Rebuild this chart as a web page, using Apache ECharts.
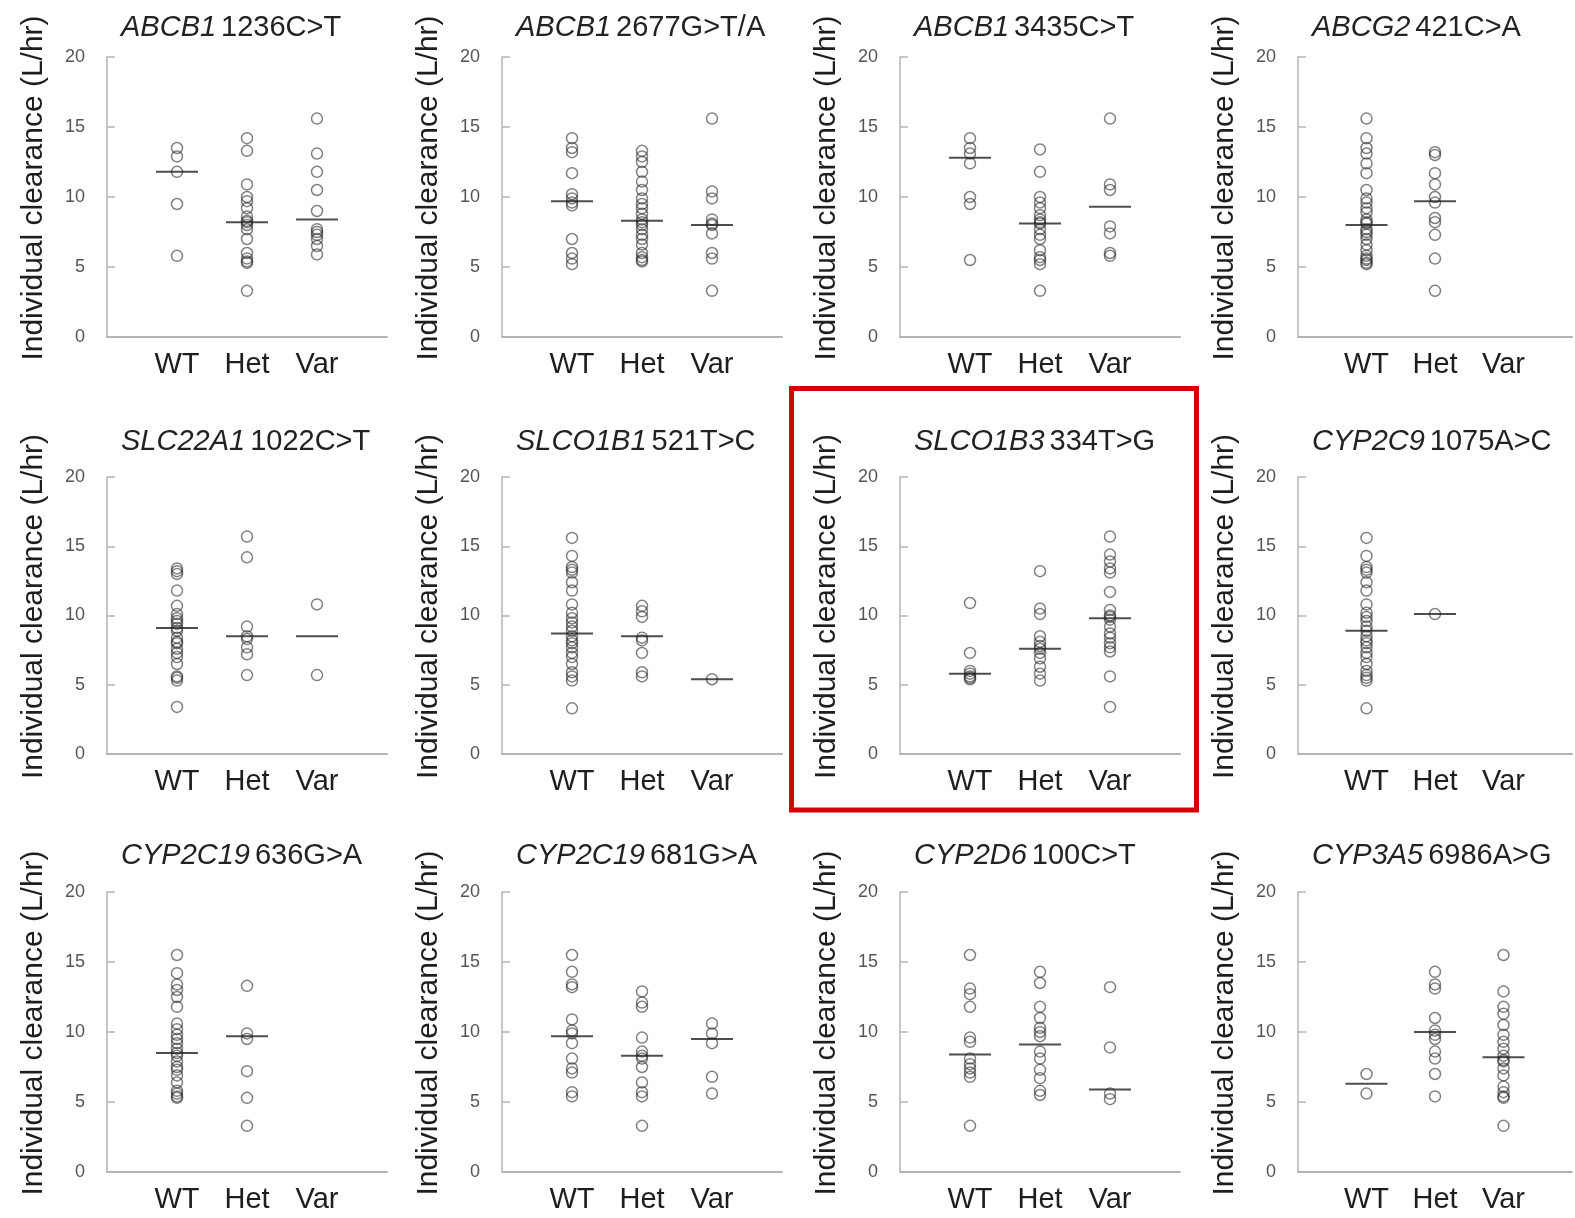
<!DOCTYPE html>
<html><head><meta charset="utf-8">
<script src="https://cdn.jsdelivr.net/npm/echarts@6/dist/echarts.min.js"></script>
<style>html,body{margin:0;padding:0;background:#fff}#c{width:1575px;height:1218px}</style>
</head><body><div id="c"></div>
<script>
// ---------- data ----------
const genotypes = ['WT', 'Het', 'Var'];
const yTickStep = 5;
const yMax = 20;
const genes = ['ABCB1','ABCB1','ABCB1','ABCG2','SLC22A1','SLCO1B1','SLCO1B3','CYP2C9','CYP2C19','CYP2C19','CYP2D6','CYP3A5'];
const variants = ['1236C>T','2677G>T/A','3435C>T','421C>A','1022C>T','521T>C','334T>G','1075A>C','636G>A','681G>A','100C>T','6986A>G'];
const yAxisTitle = 'Individual clearance (L/hr)';

const ABCB1_1236_WT  = [13.5, 12.9, 11.8, 9.5, 5.8];
const ABCB1_1236_Het = [14.2, 13.3, 10.9, 10.0, 9.7, 9.2, 8.6, 8.3, 8.2, 8.0, 7.7, 7.0, 6.0, 5.6, 5.4, 5.3, 3.3];
const ABCB1_1236_Var = [15.6, 13.1, 11.8, 10.5, 9.0, 7.7, 7.5, 7.3, 7.0, 6.5, 5.9];
const ABCB1_1236_Med = [11.8, 8.2, 8.4];

const ABCB1_2677_WT  = [14.2, 13.5, 13.2, 11.7, 10.2, 9.9, 9.6, 9.4, 7.0, 6.0, 5.6, 5.2];
const ABCB1_2677_Het = [13.3, 12.9, 12.5, 11.8, 11.1, 10.5, 9.9, 9.5, 9.2, 8.8, 8.4, 8.2, 8.0, 7.7, 7.3, 7.0, 6.6, 6.0, 5.7, 5.5, 5.4];
const ABCB1_2677_Var = [15.6, 10.4, 9.9, 8.4, 8.1, 8.0, 7.4, 6.0, 5.6, 3.3];
const ABCB1_2677_Med = [9.7, 8.3, 8.0];

const ABCB1_3435_WT  = [14.2, 13.5, 13.1, 12.4, 10.0, 9.5, 5.5];
const ABCB1_3435_Het = [13.4, 11.8, 10.0, 9.6, 9.2, 8.7, 8.4, 8.2, 8.1, 7.7, 7.3, 7.0, 6.2, 5.7, 5.5, 5.2, 3.3];
const ABCB1_3435_Var = [15.6, 10.9, 10.5, 7.9, 7.4, 6.0, 5.8];
const ABCB1_3435_Med = [12.8, 8.1, 9.3];

const ABCG2_421_WT  = [15.6, 14.2, 13.5, 13.1, 12.4, 11.7, 10.5, 9.9, 9.6, 9.2, 8.9, 8.4, 8.2, 8.1, 7.7, 7.5, 7.3, 7.0, 6.6, 6.2, 5.8, 5.6, 5.5, 5.3, 5.2];
const ABCG2_421_Het = [13.2, 13.0, 11.7, 10.9, 10.0, 9.6, 8.5, 8.2, 7.3, 5.6, 3.3];
const ABCG2_421_Var = [];
const ABCG2_421_Med = [8.0, 9.7, null];

const SLC22A1_1022_WT  = [13.4, 13.2, 13.0, 11.8, 10.7, 10.1, 9.8, 9.6, 9.4, 9.1, 8.9, 8.4, 8.1, 8.0, 7.6, 7.3, 7.0, 6.5, 5.6, 5.5, 5.3, 3.4];
const SLC22A1_1022_Het = [15.7, 14.2, 9.2, 8.5, 8.3, 7.7, 7.2, 5.7];
const SLC22A1_1022_Var = [10.8, 5.7];
const SLC22A1_1022_Med = [9.1, 8.5, 8.5];

const SLCO1B1_521_WT  = [15.6, 14.3, 13.5, 13.3, 13.1, 12.4, 11.8, 10.8, 10.2, 9.8, 9.5, 9.2, 8.9, 8.5, 8.2, 8.0, 7.7, 7.3, 7.0, 6.5, 5.9, 5.6, 5.3, 3.3];
const SLCO1B1_521_Het = [10.7, 10.3, 9.9, 8.4, 8.2, 7.3, 5.9, 5.6];
const SLCO1B1_521_Var = [5.4];
const SLCO1B1_521_Med = [8.7, 8.5, 5.4];

const SLCO1B3_334_WT  = [10.9, 7.3, 6.0, 5.8, 5.6, 5.5, 5.4];
const SLCO1B3_334_Het = [13.2, 10.5, 10.1, 8.5, 8.1, 7.8, 7.6, 7.3, 6.9, 6.3, 5.8, 5.3];
const SLCO1B3_334_Var = [15.7, 14.4, 13.9, 13.4, 13.1, 11.7, 10.4, 10.0, 9.9, 9.7, 9.2, 8.7, 8.4, 8.0, 7.7, 7.4, 5.6, 3.4];
const SLCO1B3_334_Med = [5.8, 7.6, 9.8];

const CYP2C9_1075_WT  = [15.6, 14.3, 13.5, 13.3, 13.1, 12.4, 11.8, 10.8, 10.2, 9.9, 9.6, 9.2, 8.9, 8.5, 8.2, 8.0, 7.7, 7.3, 7.0, 6.5, 6.0, 5.7, 5.5, 5.3, 3.3];
const CYP2C9_1075_Het = [10.1];
const CYP2C9_1075_Var = [];
const CYP2C9_1075_Med = [8.9, 10.1, null];

const CYP2C19_636_WT  = [15.5, 14.2, 13.4, 13.0, 12.5, 11.8, 10.6, 10.2, 9.8, 9.5, 9.2, 8.8, 8.5, 8.3, 7.9, 7.5, 7.3, 6.9, 6.4, 5.8, 5.6, 5.4, 5.3];
const CYP2C19_636_Het = [13.3, 9.9, 9.5, 7.2, 5.3, 3.3];
const CYP2C19_636_Var = [];
const CYP2C19_636_Med = [8.5, 9.7, null];

const CYP2C19_681_WT  = [15.5, 14.3, 13.4, 13.2, 10.9, 10.1, 9.9, 9.2, 8.1, 7.4, 7.1, 5.7, 5.4];
const CYP2C19_681_Het = [12.9, 12.1, 11.8, 9.6, 8.6, 8.3, 8.1, 7.5, 6.4, 5.7, 5.4, 3.3];
const CYP2C19_681_Var = [10.6, 9.9, 9.2, 6.8, 5.6];
const CYP2C19_681_Med = [9.7, 8.3, 9.5];

const CYP2D6_100_WT  = [15.5, 13.1, 12.7, 11.8, 9.6, 9.3, 8.1, 7.7, 7.4, 7.1, 6.8, 3.3];
const CYP2D6_100_Het = [14.3, 13.5, 11.8, 11.0, 10.3, 10.0, 9.7, 8.6, 8.1, 7.3, 6.7, 5.8, 5.5];
const CYP2D6_100_Var = [13.2, 8.9, 5.6, 5.2];
const CYP2D6_100_Med = [8.4, 9.1, 5.9];

const CYP3A5_6986_WT  = [7.0, 5.6];
const CYP3A5_6986_Het = [14.3, 13.4, 13.1, 11.0, 10.1, 9.8, 9.5, 8.6, 8.1, 7.0, 5.4];
const CYP3A5_6986_Var = [15.5, 12.9, 11.8, 11.3, 10.5, 9.8, 9.3, 8.8, 8.3, 8.0, 7.9, 7.4, 6.9, 6.1, 5.7, 5.4, 5.3, 3.3];
const CYP3A5_6986_Med = [6.3, 10.0, 8.2];

const panelGroups = [
  [ABCB1_1236_WT, ABCB1_1236_Het, ABCB1_1236_Var],
  [ABCB1_2677_WT, ABCB1_2677_Het, ABCB1_2677_Var],
  [ABCB1_3435_WT, ABCB1_3435_Het, ABCB1_3435_Var],
  [ABCG2_421_WT, ABCG2_421_Het, ABCG2_421_Var],
  [SLC22A1_1022_WT, SLC22A1_1022_Het, SLC22A1_1022_Var],
  [SLCO1B1_521_WT, SLCO1B1_521_Het, SLCO1B1_521_Var],
  [SLCO1B3_334_WT, SLCO1B3_334_Het, SLCO1B3_334_Var],
  [CYP2C9_1075_WT, CYP2C9_1075_Het, CYP2C9_1075_Var],
  [CYP2C19_636_WT, CYP2C19_636_Het, CYP2C19_636_Var],
  [CYP2C19_681_WT, CYP2C19_681_Het, CYP2C19_681_Var],
  [CYP2D6_100_WT, CYP2D6_100_Het, CYP2D6_100_Var],
  [CYP3A5_6986_WT, CYP3A5_6986_Het, CYP3A5_6986_Var]
];
const panelMedians = [ABCB1_1236_Med, ABCB1_2677_Med, ABCB1_3435_Med, ABCG2_421_Med,
  SLC22A1_1022_Med, SLCO1B1_521_Med, SLCO1B3_334_Med, CYP2C9_1075_Med,
  CYP2C19_636_Med, CYP2C19_681_Med, CYP2D6_100_Med, CYP3A5_6986_Med];

// ---------- layout ----------
const FONT = '"Liberation Sans", Arial, sans-serif';
const colLeft = [107, 502, 900, 1298];
const rowTop = [57, 477, 892];
const rowHeight = [280, 277, 280];
const gridWidth = 280;
const titleTop = [13, 427, 841];

const grids = [], xAxes = [], yAxes = [], series = [], titles = [];
for (let p = 0; p < 12; p++) {
  const r = Math.floor(p / 4), c = p % 4;
  grids.push({ left: colLeft[c], top: rowTop[r], width: gridWidth, height: rowHeight[r], containLabel: false });
  xAxes.push({
    gridIndex: p, type: 'value', min: 0, max: genotypes.length + 1, interval: 1,
    splitLine: { show: false }, axisTick: { show: false },
    axisLine: { lineStyle: { color: '#b4b4b4', width: 2 } },
    axisLabel: { margin: 13, fontSize: 29, color: '#1e1e1e', fontFamily: FONT,
      formatter: v => genotypes[v - 1] || '' }
  });
  yAxes.push({
    gridIndex: p, type: 'value', min: 0, max: yMax, interval: yTickStep,
    name: yAxisTitle, nameLocation: 'middle', nameGap: 58,
    nameTextStyle: { fontSize: 30, color: '#1e1e1e', fontFamily: FONT, padding: [0, 0, 0, 18] },
    splitLine: { show: false },
    axisLine: { show: true, lineStyle: { color: '#b4b4b4', width: 1.5 } },
    axisTick: { show: true, inside: true, length: 8, lineStyle: { color: '#b4b4b4', width: 1.5 } },
    axisLabel: { margin: 22, fontSize: 18, color: '#555', fontFamily: FONT }
  });
  const pts = [];
  panelGroups[p].forEach((arr, gi) => arr.forEach(v => pts.push([gi + 1, v])));
  series.push({
    type: 'scatter', xAxisIndex: p, yAxisIndex: p, data: pts,
    symbol: 'circle', symbolSize: 11, silent: true,
    itemStyle: { color: 'rgba(255,255,255,0)', borderColor: 'rgba(45,45,45,0.75)', borderWidth: 1.5 }
  });
  const med = [];
  panelMedians[p].forEach((m, gi) => { if (m !== null) med.push([gi + 1, m]); });
  series.push({
    type: 'scatter', xAxisIndex: p, yAxisIndex: p, data: med,
    symbol: 'rect', symbolSize: [42, 2], silent: true, z: 3,
    itemStyle: { color: '#222' }
  });
  titles.push({
    text: '{g|' + genes[p] + '} {n|' + variants[p] + '}',
    left: colLeft[c] + 14, top: titleTop[r], padding: 0,
    textStyle: { fontWeight: 'normal', rich: {
      g: { fontStyle: 'italic', fontWeight: 'normal', fontSize: 29, color: '#222', fontFamily: FONT },
      n: { fontWeight: 'normal', fontSize: 29, color: '#222', fontFamily: FONT }
    } }
  });
}

const chart = echarts.init(document.getElementById('c'), null, { renderer: 'canvas' });
chart.setOption({
  animation: false,
  backgroundColor: '#fff',
  title: titles,
  grid: grids, xAxis: xAxes, yAxis: yAxes, series: series,
  graphic: [{
    type: 'rect', z: 100, silent: true,
    shape: { x: 791.5, y: 388.5, width: 405, height: 421.5 },
    style: { fill: 'none', stroke: '#d40000', lineWidth: 5 }
  }]
});
</script></body></html>
